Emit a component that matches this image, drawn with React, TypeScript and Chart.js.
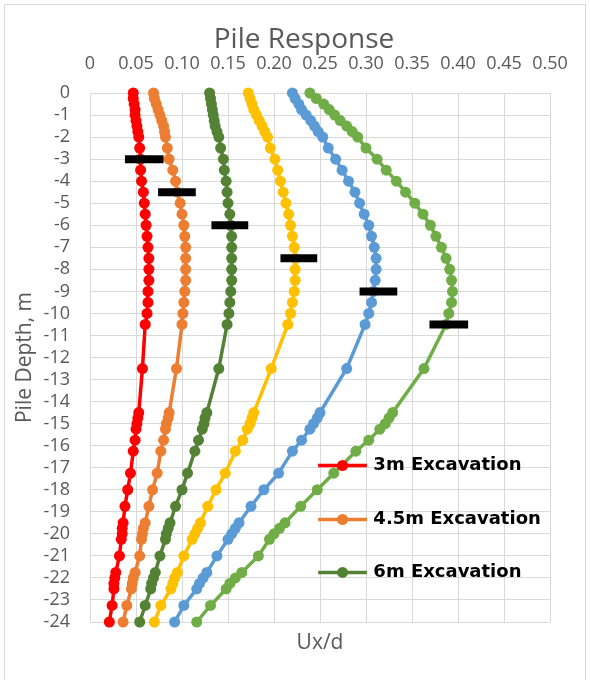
import React, { useEffect, useRef } from "react";
import { Chart, registerables } from "chart.js";

Chart.register(...registerables);

// Depth below ground (m), shared by every series
const depths = [
  0, -0.25, -0.5, -0.75, -1, -1.25, -1.5, -1.75, -2, -2.5, -3, -3.5, -4, -4.5, -5, -5.5, -6, -6.5, -7, -7.5,
  -8, -8.5, -9, -9.5, -10, -10.5, -12.5, -14.5, -14.75, -15, -15.25, -15.75, -16.25, -17.25, -18, -18.75,
  -19.5, -19.75, -20, -20.25, -21, -21.75, -22, -22.25, -22.5, -23.25, -24,
];

// Ux/d for each excavation stage
const exc3m = [
  0.047, 0.047, 0.048, 0.049, 0.049, 0.05, 0.051, 0.052, 0.053, 0.054, 0.055, 0.055, 0.056, 0.058, 0.059, 0.06,
  0.061, 0.062, 0.063, 0.064, 0.064, 0.064, 0.063, 0.063, 0.062, 0.06, 0.057, 0.053, 0.052, 0.051, 0.05, 0.049,
  0.047, 0.044, 0.041, 0.038, 0.036, 0.035, 0.035, 0.034, 0.032, 0.028, 0.027, 0.026, 0.026, 0.024, 0.021,
];
const exc4_5m = [
  0.069, 0.07, 0.072, 0.074, 0.076, 0.078, 0.08, 0.081, 0.082, 0.084, 0.086, 0.09, 0.093, 0.095, 0.098, 0.1,
  0.102, 0.103, 0.104, 0.104, 0.104, 0.104, 0.103, 0.102, 0.101, 0.1, 0.094, 0.086, 0.085, 0.083, 0.082, 0.08,
  0.077, 0.073, 0.068, 0.064, 0.06, 0.058, 0.057, 0.056, 0.054, 0.049, 0.047, 0.046, 0.045, 0.04, 0.036,
];
const exc6m = [
  0.13, 0.131, 0.132, 0.133, 0.134, 0.135, 0.136, 0.138, 0.14, 0.142, 0.145, 0.146, 0.148, 0.149, 0.15, 0.152,
  0.153, 0.154, 0.154, 0.154, 0.154, 0.154, 0.153, 0.152, 0.151, 0.149, 0.14, 0.127, 0.125, 0.124, 0.122, 0.118,
  0.114, 0.106, 0.1, 0.093, 0.087, 0.085, 0.083, 0.082, 0.076, 0.071, 0.069, 0.067, 0.066, 0.06, 0.054,
];
const exc7_5m = [
  0.172, 0.174, 0.176, 0.178, 0.181, 0.184, 0.187, 0.19, 0.193, 0.196, 0.201, 0.204, 0.207, 0.21, 0.213, 0.216,
  0.218, 0.22, 0.222, 0.223, 0.223, 0.223, 0.222, 0.22, 0.218, 0.215, 0.197, 0.178, 0.176, 0.174, 0.171, 0.166,
  0.158, 0.147, 0.137, 0.128, 0.12, 0.117, 0.114, 0.111, 0.102, 0.095, 0.092, 0.09, 0.088, 0.077, 0.07,
];
const exc9m = [
  0.22, 0.223, 0.227, 0.23, 0.235, 0.24, 0.244, 0.248, 0.253, 0.259, 0.267, 0.274, 0.281, 0.288, 0.293, 0.298,
  0.303, 0.306, 0.309, 0.311, 0.311, 0.31, 0.308, 0.306, 0.303, 0.299, 0.279, 0.25, 0.247, 0.243, 0.239, 0.23,
  0.22, 0.205, 0.189, 0.175, 0.162, 0.158, 0.154, 0.15, 0.138, 0.127, 0.123, 0.119, 0.116, 0.102, 0.092,
];
const exc10_5m = [
  0.239, 0.246, 0.254, 0.26, 0.266, 0.272, 0.279, 0.285, 0.291, 0.3, 0.312, 0.322, 0.333, 0.343, 0.353, 0.362,
  0.37, 0.376, 0.382, 0.387, 0.391, 0.393, 0.394, 0.393, 0.39, 0.387, 0.363, 0.329, 0.325, 0.321, 0.315, 0.303,
  0.289, 0.265, 0.247, 0.229, 0.212, 0.206, 0.2, 0.195, 0.183, 0.165, 0.158, 0.152, 0.148, 0.131, 0.116,
];

const seriesLabels = [
  "3m Excavation",
  "4.5m Excavation",
  "6m Excavation",
  "7.5m Excavation",
  "9m Excavation",
  "10.5m Excavation",
];
const seriesValues = [exc3m, exc4_5m, exc6m, exc7_5m, exc9m, exc10_5m];
const seriesColors = ["#ff0000", "#ed7d31", "#548235", "#ffc000", "#5b9bd5", "#70ad47"];

// Excavation level markers (black bars)
const excavationLevels = [-3, -4.5, -6, -7.5, -9, -10.5];
const markerFrom = [0.038, 0.074, 0.132, 0.207, 0.293, 0.369];
const markerTo = [0.08, 0.115, 0.172, 0.247, 0.334, 0.411];

const chartTitle = "Pile Response";
const xTitle = "Ux/d";
const yTitle = "Pile Depth, m";
const legendCount = 3;

const GRID = "#d9d9d9";
const TEXT = "#595959";

const framePlugin = {
  id: "frame",
  beforeDraw(chart: any) {
    const { ctx, width, height } = chart;
    ctx.save();
    ctx.fillStyle = "#ffffff";
    ctx.fillRect(0, 0, width, height);
    ctx.strokeStyle = GRID;
    ctx.lineWidth = 1;
    ctx.strokeRect(4.5, 4.5, width - 9, height + 10);
    ctx.restore();
  },
  afterDraw(chart: any) {
    const { ctx, chartArea } = chart;
    ctx.save();
    ctx.fillStyle = TEXT;
    ctx.font = "28px 'Open Sans'";
    ctx.textAlign = "center";
    ctx.textBaseline = "middle";
    ctx.fillText(chartTitle, (chartArea.left + chartArea.right) / 2 - 16, 40);
    ctx.restore();
  },
};

const insideLegendPlugin = {
  id: "insideLegend",
  afterDatasetsDraw(chart: any) {
    const { ctx } = chart;
    const x = chart.scales.x;
    const y = chart.scales.y;
    const rows = [-16.9, -19.35, -21.75];
    ctx.save();
    for (let i = 0; i < legendCount; i++) {
      const cy = y.getPixelForValue(rows[i]);
      const x0 = x.getPixelForValue(0.248);
      const x1 = x.getPixelForValue(0.301);
      ctx.strokeStyle = seriesColors[i];
      ctx.lineWidth = 3.5;
      ctx.beginPath();
      ctx.moveTo(x0, cy);
      ctx.lineTo(x1, cy);
      ctx.stroke();
      ctx.fillStyle = seriesColors[i];
      ctx.beginPath();
      ctx.arc((x0 + x1) / 2, cy, 5.5, 0, Math.PI * 2);
      ctx.fill();
      ctx.fillStyle = "#000000";
      ctx.font = "bold 18px 'DejaVu Sans'";
      ctx.textAlign = "left";
      ctx.textBaseline = "middle";
      ctx.fillText(seriesLabels[i], x.getPixelForValue(0.308), cy);
    }
    ctx.restore();
  },
};

export default function App() {
  const canvasRef = useRef<HTMLCanvasElement | null>(null);

  useEffect(() => {
    document.body.style.margin = "0";
    const canvas = canvasRef.current;
    if (!canvas) return;

    const markerSets = excavationLevels.map((lvl, i) => ({
      label: "marker" + i,
      data: [
        { x: markerFrom[i], y: lvl },
        { x: markerTo[i], y: lvl },
      ],
      showLine: true,
      borderColor: "#000000",
      backgroundColor: "#000000",
      borderWidth: 8,
      borderCapStyle: "butt",
      pointRadius: 0,
      pointHoverRadius: 0,
      order: 0,
      clip: false,
    }));

    const seriesSets = seriesValues.map((vals, s) => ({
      label: seriesLabels[s],
      data: depths.map((d, i) => ({ x: vals[i], y: d })),
      showLine: true,
      borderColor: seriesColors[s],
      backgroundColor: seriesColors[s],
      pointBackgroundColor: seriesColors[s],
      pointBorderColor: seriesColors[s],
      borderWidth: 3.5,
      pointRadius: 5.5,
      pointBorderWidth: 0,
      tension: 0,
      order: 1 + s,
      clip: false,
    }));

    const chart = new Chart(canvas, {
      type: "scatter",
      data: { datasets: [...markerSets, ...seriesSets] as any },
      options: {
        animation: false,
        responsive: false,
        maintainAspectRatio: false,
        layout: { padding: { left: 8, right: 40, top: 54, bottom: 0 } },
        plugins: {
          legend: { display: false },
          title: { display: false },
          tooltip: { enabled: false },
        },
        scales: {
          x: {
            type: "linear",
            position: "top",
            min: 0,
            max: 0.5,
            ticks: {
              stepSize: 0.05,
              color: TEXT,
              font: { family: "'Open Sans'", size: 18 },
              padding: 18,
              autoSkip: false,
              maxRotation: 0,
            },
            grid: { color: GRID, drawTicks: false },
            border: { color: GRID },
            afterFit: (s: any) => {
              s.height = 39;
            },
          },
          x2: {
            type: "linear",
            position: "bottom",
            min: 0,
            max: 0.5,
            ticks: { display: false },
            grid: { display: false, drawTicks: false },
            border: { display: false },
            title: {
              display: true,
              text: xTitle,
              color: TEXT,
              font: { family: "'Open Sans'", size: 21 },
              padding: { top: 0, bottom: 24 },
            },
            afterFit: (s: any) => {
              s.height = 58;
            },
          },
          y: {
            type: "linear",
            position: "left",
            min: -24,
            max: 0,
            ticks: {
              stepSize: 1,
              color: TEXT,
              font: { family: "'Open Sans'", size: 18 },
              padding: 20,
              autoSkip: false,
            },
            grid: { color: GRID, drawTicks: false },
            border: { color: GRID },
            title: {
              display: true,
              text: yTitle,
              color: TEXT,
              font: { family: "'Open Sans'", size: 21 },
              padding: { top: 4, bottom: 0 },
            },
            afterFit: (s: any) => {
              s.width = 82;
            },
          },
        },
      },
      plugins: [framePlugin, insideLegendPlugin],
    });

    return () => chart.destroy();
  }, []);

  return (
    <div style={{ width: 590, height: 680 }}>
      <canvas ref={canvasRef} width={590} height={680} style={{ display: "block", width: 590, height: 680 }} />
    </div>
  );
}
